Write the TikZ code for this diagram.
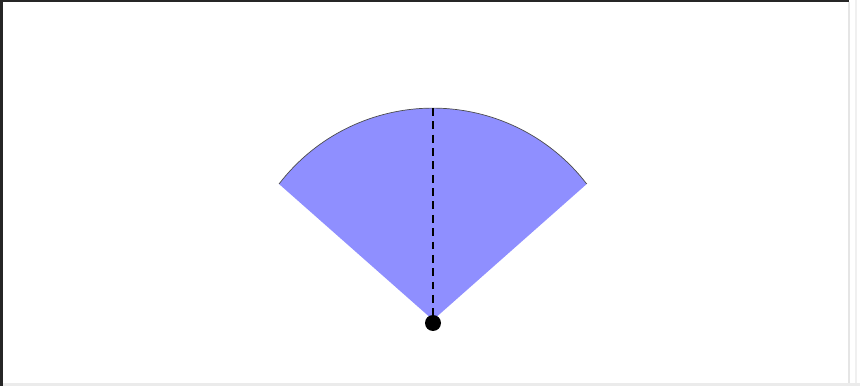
\documentclass[tikz,border=0pt]{standalone}
\usepackage{xcolor}
\definecolor{wedgeblue}{RGB}{143,143,255}

\begin{document}
\begin{tikzpicture}[
      x=0.02cm, y=0.02cm,
      wedge/.style={fill=wedgeblue, draw=none},
      rim/.style={draw=black!70, line width=0.4pt},
      axisline/.style={dash pattern=on 4.5pt off 3.1pt, line width=0.7pt},
      pivot/.style={circle, fill=black, inner sep=0pt, minimum size=0.32cm}
    ]
    \useasboundingbox (0,0) rectangle (860,386);
    % frame
    \fill[black!85] (0,0) rectangle (3,386);
    \fill[black!85] (0,384) rectangle (849,386);
    \fill[black!10] (848,0) rectangle (850,384);
    \fill[black!6] (855,0) rectangle (857,386);
    \fill[black!8] (3,0) rectangle (860,3);

    \coordinate (apex) at (433,66);
    \coordinate (left) at (279,202);
    \coordinate (top) at (433,278);

    \fill[wedge] (apex) -- (left) arc[start angle=142.5, end angle=37.5, radius=3.88cm] -- cycle;
    \draw[rim] (left) arc[start angle=142.5, end angle=37.5, radius=3.88cm];
    \node[pivot] (dot) at (433,63) {};
    \draw[axisline] (top) -- (dot.center);
  \end{tikzpicture}
\end{document}
